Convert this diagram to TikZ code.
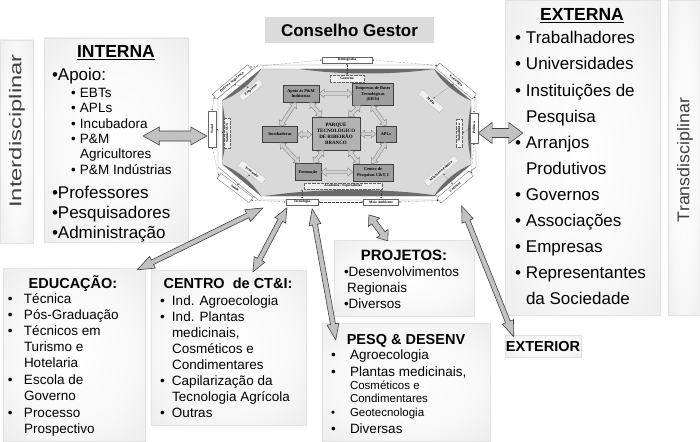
\documentclass[tikz,border=0pt]{standalone}
\usepackage{fontspec}
\setmainfont{Liberation Sans}
\newfontfamily\tinyserif{Liberation Serif}
\usetikzlibrary{calc,arrows.meta}
\newcommand\fsz[1]{\fontsize{#1}{\dimexpr #1pt*6/5\relax}\selectfont}
\newcommand\bul[2]{\makebox[#1][l]{•}#2}
\pgfdeclareradialshading{panelshade}{\pgfpoint{0bp}{0bp}}{color(0bp)=(white); color(22bp)=(black!3); color(50bp)=(black!11); color(72bp)=(black!17)}
\newcommand\bigarr[6][]{%
  \filldraw[#1] (#2)
   -- ($(#2)!#6!(#3)!#5!-90:(#3)$)
   -- ($(#2)!#6!(#3)!#4!-90:(#3)$)
   -- ($(#3)!#6!(#2)!#4!90:(#2)$)
   -- ($(#3)!#6!(#2)!#5!90:(#2)$)
   -- (#3)
   -- ($(#3)!#6!(#2)!#5!-90:(#2)$)
   -- ($(#3)!#6!(#2)!#4!-90:(#2)$)
   -- ($(#2)!#6!(#3)!#4!90:(#3)$)
   -- ($(#2)!#6!(#3)!#5!90:(#3)$)
   -- cycle;}
\newcommand\cres[3]{\fill[black!58] (#1) .. controls ($(#1)!0.3!(#2)!#3!-90:(#2)$) and ($(#1)!0.7!(#2)!#3!-90:(#2)$) .. (#2) -- cycle;}
\begin{document}
\begin{tikzpicture}[x=1pt,y=-1pt,
  panel/.style={shade, shading=panelshade, draw=green!8!black!12, line width=0.4pt, inner sep=0pt},
  txt/.style={anchor=base west, inner sep=0pt, outer sep=0pt},
  ttl/.style={anchor=base, inner sep=0pt, font=\bfseries\fsz{#1}},
  olab/.style={draw=black!60, fill=white, line width=0.3pt, font=\tinyserif\bfseries\fsz{3.6}, inner sep=0.5pt, minimum height=6.5},
  ilab/.style={olab, densely dotted, fill=black!6},
  ibox/.style={draw=black!75, fill=black!38, line width=0.4pt, font=\tinyserif\bfseries\fsz{4.3}, align=center, inner sep=0.3pt},
  dcon/.style={densely dotted, line width=0.35pt, draw=black!75, {Latex[length=1.6pt,width=1.4pt]}-{Latex[length=1.6pt,width=1.4pt]}},
  bigarrow/.style={fill=black!24, draw=black!75, line width=0.6pt, line join=miter},
  inarrow/.style={fill=black!18, draw=black!55, line width=0.3pt}
]
\useasboundingbox (0,0) rectangle (700,441);
\fill[white] (0,0) rectangle (700,441);

% ---------- panels ----------
\node[panel, minimum width=33, minimum height=203] (inter) at (16.5,141.5) {};
\node[panel, minimum width=144, minimum height=204] (interna) at (116,140) {};
\node[fill=black!14, minimum width=169, minimum height=26, font=\bfseries\fsz{17}] (cons) at (349.5,30) {Conselho Gestor};
\node[panel, minimum width=155, minimum height=315] (externa) at (582.5,157.5) {};
\node[panel, minimum width=32, minimum height=315] (trans) at (684,157.5) {};
\node[panel, minimum width=142, minimum height=173] (educ) at (74,354.5) {};
\node[panel, minimum width=155, minimum height=155] (ctibox) at (228.5,347.5) {};
\node[panel, minimum width=140, minimum height=76] (proj) at (404,278) {};
\node[panel, minimum width=168, minimum height=118] (pesq) at (406,382) {};
\node[panel, minimum width=76, minimum height=22] (ext) at (543,346) {};

% ---------- central diagram ----------
\path[draw=black!55, line width=0.4pt, fill=white] (258,65) -- (437,65) -- (476,98) -- (476,167) -- (437,200) -- (258,200) -- (218,167) -- (218,98) -- cycle;
\path[draw=black!45, line width=0.3pt, fill=black!15] (261,69) -- (434,69) -- (471,100.5) -- (471,164.5) -- (434,196) -- (261,196) -- (222.5,164.5) -- (222.5,100.5) -- cycle;
\cres{300,69}{434,69}{6pt}
\cres{434,69}{471,100.5}{5pt}
\cres{471,106}{471,160}{4pt}
\cres{471,164.5}{434,196}{5pt}
\cres{440,196}{265,196}{8pt}
\cres{261,196}{222.5,164.5}{5pt}
\cres{222.5,160}{222.5,105}{4pt}
\cres{222.5,100.5}{261,69}{5pt}

\node[olab, minimum width=50] (dem) at (347,60) {Demografia};
\node[ilab, minimum width=34] (gov) at (347,78.5) {Governo};
\node[olab, minimum width=46, rotate=40] (otl) at (232,82) {Defesa e Segurança};
\node[ilab, minimum width=26, rotate=40] (itl) at (251,90) {Empresas};
\node[olab, minimum width=36, minimum height=8, rotate=90] (ol) at (212,129) {Social};
\node[ilab, minimum width=30, rotate=90] (il) at (227,133) {Saúde / SUS};
\node[olab, minimum width=40, rotate=-37] (obl) at (235,188) {Saúde};
\node[ilab, minimum width=30, rotate=-37] (ibl) at (252,172) {Economia};
\node[olab, minimum width=48, rotate=-40] (otr) at (456,81) {Estratégia};
\node[ilab, minimum width=28, rotate=-40] (itr) at (431,101) {Mídia};
\node[olab, minimum width=30, minimum height=8, rotate=90] (orr) at (474,128) {Política};
\node[ilab, minimum width=28, rotate=90] (ir) at (459,133) {Trabalhista};
\node[olab, minimum width=42, rotate=40] (obr) at (455,187) {Cultural};
\node[ilab, minimum width=40, rotate=40] (ibr) at (441,171) {Ministério Público};
\node[olab, minimum width=32] (tec) at (302,202) {Tecnologia};
\node[olab, minimum width=35] (mam) at (381,202) {Meio Ambiente};
\node[ilab, minimum width=78] (acad) at (343,186) {Academia / Especialistas};

\draw[dcon] (dem.west) -- (otl.east);
\draw[dcon] (dem.east) -- (otr.west);
\draw[dcon] (otl.west) -- (ol.east);
\draw[dcon] (ol.west) -- (obl.west);
\draw[dcon] (obl.east) -- (tec.west);
\draw[dcon] (tec.east) -- (mam.west);
\draw[dcon] (mam.east) -- (obr.west);
\draw[dcon] (obr.east) -- (orr.west);
\draw[dcon] (orr.east) -- (otr.east);
\draw[dcon] (dem.south) -- (gov.north);
\draw[dcon] (otl.south) -- (itl.north);
\draw[dcon] (ol.south) -- (il.north);
\draw[dcon] (obl.north) -- (ibl.south);
\draw[dcon] (otr.south) -- (itr.north);
\draw[dcon] (orr.north) -- (ir.south);
\draw[dcon] (obr.north) -- (ibr.south);
\draw[dcon] (tec.north) -- (tec.north |- acad.south);
\draw[dcon] (mam.north) -- (mam.north |- acad.south);

\node[ibox, minimum width=36, minimum height=17] (apoio) at (301,93.5) {Apoio às P\&M\\Indústrias};
\node[ibox, minimum width=41, minimum height=22] (ebts) at (373,94) {Empresas de Bases\\Tecnológicas\\(EBTs)};
\node[ibox, fill=black!30, minimum width=48, minimum height=33, font=\tinyserif\bfseries\fsz{5}] (parque) at (336,133.5) {PARQUE\\TECNOLÓGICO\\DE RIBEIRÃO\\BRANCO};
\node[ibox, minimum width=35, minimum height=16] (incub) at (280,134.5) {Incubadoras};
\node[ibox, minimum width=20, minimum height=16] (apls) at (386,134) {APLs};
\node[ibox, minimum width=26, minimum height=17] (form) at (308,172) {Formação};
\node[ibox, minimum width=40, minimum height=17] (centro) at (373,172.5) {Centro de\\Pesquisas C\&T, I};

\coordinate (p1a) at (apoio.east); \coordinate (p1b) at (ebts.west |- apoio.east);
\coordinate (p2a) at (form.east); \coordinate (p2b) at (centro.west |- form.east);
\coordinate (p3a) at (incub.east); \coordinate (p3b) at (parque.west |- incub.east);
\coordinate (p4a) at (parque.east |- apls.west); \coordinate (p4b) at (apls.west);
\coordinate (p5a) at (incub.north); \coordinate (p5b) at ($(apoio.south)+(-5,0)$);
\coordinate (p6a) at ($(apoio.south)+(9,0)$); \coordinate (p6b) at ($(parque.north west)+(10,0)$);
\coordinate (p7a) at ($(ebts.south west)+(8,0)$); \coordinate (p7b) at ($(parque.north east)+(-12,0)$);
\coordinate (p8a) at ($(ebts.south west)+(19,0)$); \coordinate (p8b) at (apls.north);
\coordinate (p9a) at (incub.south); \coordinate (p9b) at ($(form.north west)+(5,0)$);
\coordinate (p10a) at ($(form.north east)+(-8,0)$); \coordinate (p10b) at ($(parque.south west)+(12,0)$);
\coordinate (p11a) at ($(parque.south east)+(-12,0)$); \coordinate (p11b) at ($(centro.north west)+(7,0)$);
\coordinate (p12a) at (apls.south); \coordinate (p12b) at ($(centro.north west)+(19,0)$);
\bigarr[inarrow]{p1a}{p1b}{1.8pt}{4.2pt}{5pt}
\bigarr[inarrow]{p2a}{p2b}{1.8pt}{4.2pt}{5pt}
\bigarr[inarrow]{p3a}{p3b}{1.6pt}{3.8pt}{4.5pt}
\bigarr[inarrow]{p4a}{p4b}{1.6pt}{3.8pt}{4.5pt}
\bigarr[inarrow]{p5a}{p5b}{1.8pt}{4.2pt}{5pt}
\bigarr[inarrow]{p6a}{p6b}{1.8pt}{4.2pt}{5pt}
\bigarr[inarrow]{p7a}{p7b}{1.8pt}{4.2pt}{5pt}
\bigarr[inarrow]{p8a}{p8b}{1.8pt}{4.2pt}{5pt}
\bigarr[inarrow]{p9a}{p9b}{1.8pt}{4.2pt}{5pt}
\bigarr[inarrow]{p10a}{p10b}{1.8pt}{4.2pt}{5pt}
\bigarr[inarrow]{p11a}{p11b}{1.8pt}{4.2pt}{5pt}
\bigarr[inarrow]{p12a}{p12b}{1.8pt}{4.2pt}{5pt}

% ---------- texts ----------
\node[rotate=90, font=\fsz{17}, black!75] (intert) at (17,131) {\scalebox{1.4}[1]{Interdisciplinar}};
\node[rotate=90, font=\fsz{17}, black!75] (transt) at (685,160) {\scalebox{1.05}[1]{Transdisciplinar}};

\node[ttl=17.5] (internat) at (116,58) {\underline{INTERNA}};
\node[txt, font=\fsz{17}] (in1) at (52,81) {•Apoio:};
\node[txt, font=\fsz{13.5}] (in2) at (71,97.5) {\bul{9pt}{EBTs}};
\node[txt, font=\fsz{13.5}] (in3) at (71,112.5) {\bul{9pt}{APLs}};
\node[txt, font=\fsz{13.5}] (in4) at (71,128) {\bul{9pt}{Incubadora}};
\node[txt, font=\fsz{13.5}] (in5) at (71,143) {\bul{9pt}{P\&M}};
\node[txt, font=\fsz{13.5}] (in6) at (80,158.5) {Agricultores};
\node[txt, font=\fsz{13.5}] (in7) at (71,174.5) {\bul{9pt}{P\&M Indústrias}};
\node[txt, font=\fsz{17}] (in8) at (52,198) {•Professores};
\node[txt, font=\fsz{17}] (in9) at (52,218) {•Pesquisadores};
\node[txt, font=\fsz{17}] (in10) at (52,238) {•Administração};

\node[ttl=17.5] (externat) at (582,21) {\underline{EXTERNA}};
\node[txt, font=\fsz{17}] (ex1) at (515,44) {\bul{11pt}{Trabalhadores}};
\node[txt, font=\fsz{17}] (ex2) at (515,70) {\bul{11pt}{Universidades}};
\node[txt, font=\fsz{17}] (ex3) at (515,96) {\bul{11pt}{Instituições de}};
\node[txt, font=\fsz{17}] (ex4) at (526,122) {Pesquisa};
\node[txt, font=\fsz{17}] (ex5) at (515,148) {\bul{11pt}{Arranjos}};
\node[txt, font=\fsz{17}] (ex6) at (526,174) {Produtivos};
\node[txt, font=\fsz{17}] (ex7) at (515,200) {\bul{11pt}{Governos}};
\node[txt, font=\fsz{17}] (ex8) at (515,226) {\bul{11pt}{Associações}};
\node[txt, font=\fsz{17}] (ex9) at (515,252) {\bul{11pt}{Empresas}};
\node[txt, font=\fsz{17}] (ex10) at (515,278) {\bul{11pt}{Representantes}};
\node[txt, font=\fsz{17}] (ex11) at (526,304) {da Sociedade};

\node[ttl=14.5] (educt) at (73,288) {EDUCAÇÃO:};
\node[txt, font=\fsz{13.5}] (ed1) at (8,303.5) {\bul{16pt}{Técnica}};
\node[txt, font=\fsz{13.5}] (ed2) at (8,319.5) {\bul{16pt}{Pós-Graduação}};
\node[txt, font=\fsz{13.5}] (ed3) at (8,335.5) {\bul{16pt}{Técnicos em}};
\node[txt, font=\fsz{13.5}] (ed4) at (24,351.5) {Turismo e};
\node[txt, font=\fsz{13.5}] (ed5) at (24,367.5) {Hotelaria};
\node[txt, font=\fsz{13.5}] (ed6) at (8,384) {\bul{16pt}{Escola de}};
\node[txt, font=\fsz{13.5}] (ed7) at (24,400) {Governo};
\node[txt, font=\fsz{13.5}] (ed8) at (8,417) {\bul{16pt}{Processo}};
\node[txt, font=\fsz{13.5}] (ed9) at (24,433) {Prospectivo};

\node[ttl=14.5] (ctit) at (228,288) {CENTRO\ \ de CT\&I:};
\node[txt, font=\fsz{13.5}] (ct1) at (160,305.5) {\bul{12pt}{Ind. Agroecologia}};
\node[txt, font=\fsz{13.5}] (ct2) at (160,321.5) {\bul{12pt}{Ind. Plantas}};
\node[txt, font=\fsz{13.5}] (ct3) at (172,337.5) {medicinais,};
\node[txt, font=\fsz{13.5}] (ct4) at (172,353.5) {Cosméticos e};
\node[txt, font=\fsz{13.5}] (ct5) at (172,369.5) {Condimentares};
\node[txt, font=\fsz{13.5}] (ct6) at (160,385.5) {\bul{12pt}{Capilarização da}};
\node[txt, font=\fsz{13.5}] (ct7) at (172,401.5) {Tecnologia Agrícola};
\node[txt, font=\fsz{13.5}] (ct8) at (160,417.5) {\bul{12pt}{Outras}};

\node[ttl=15] (projt) at (404,260) {PROJETOS:};
\node[txt, font=\fsz{13.5}] (pr1) at (344,276.5) {•Desenvolvimentos};
\node[txt, font=\fsz{13.5}] (pr2) at (347,292) {Regionais};
\node[txt, font=\fsz{13.5}] (pr3) at (344,308) {•Diversos};

\node[ttl=14.5] (pesqt) at (406,344) {PESQ \& DESENV};
\node[txt, font=\fsz{13.5}] (pd1) at (331,359.5) {\bul{19pt}{Agroecologia}};
\node[txt, font=\fsz{13.5}] (pd2) at (331,376) {\bul{19pt}{Plantas medicinais,}};
\node[txt, font=\fsz{11.5}] (pd3) at (350,389.5) {Cosméticos e};
\node[txt, font=\fsz{11.5}] (pd4) at (350,402.5) {Condimentares};
\node[txt, font=\fsz{11.5}] (pd5) at (331,416) {\bul{19pt}{Geotecnologia}};
\node[txt, font=\fsz{13.5}] (pd6) at (331,433) {\bul{19pt}{Diversas}};

\node[ttl=14.5] (extt) at (543,351) {EXTERIOR};

% ---------- big arrows ----------
\coordinate (a1s) at ($(interna.east)+(-45,-4)$);
\coordinate (a1e) at ($(ol.north)+(-1,7)$);
\coordinate (a2s) at ($(orr.south)+(0,5)$);
\coordinate (a2e) at ($(externa.west)+(18,-24.5)$);
\coordinate (a3s) at ($(tec.west)+(-23,6)$);
\coordinate (a3e) at ($(educ.north east)+(-8,2)$);
\coordinate (a4s) at ($(tec.south west)+(1,2.5)$);
\coordinate (a4e) at ($(ctibox.north)+(24.5,2)$);
\coordinate (a5s) at ($(tec.south east)+(-6,3.5)$);
\coordinate (a5e) at ($(pesq.north west)+(14,17)$);
\coordinate (a6s) at ($(mam.south west)+(5.5,9.5)$);
\coordinate (a6e) at ($(proj.north west)+(54,1)$);
\coordinate (a7s) at ($(mam.east)+(63,4)$);
\coordinate (a7e) at ($(ext.north west)+(9,2)$);
\bigarr[bigarrow]{a1s}{a1e}{5pt}{9pt}{16pt}
\bigarr[bigarrow]{a2s}{a2e}{4.5pt}{10.5pt}{14pt}
\bigarr[bigarrow]{a3s}{a3e}{2.5pt}{6.5pt}{17pt}
\bigarr[bigarrow]{a4s}{a4e}{2.5pt}{6pt}{14pt}
\bigarr[bigarrow]{a5s}{a5e}{2.5pt}{6pt}{16pt}
\bigarr[bigarrow]{a6s}{a6e}{3pt}{7pt}{9pt}
\bigarr[bigarrow]{a7s}{a7e}{2.5pt}{6pt}{16pt}
\end{tikzpicture}
\end{document}
